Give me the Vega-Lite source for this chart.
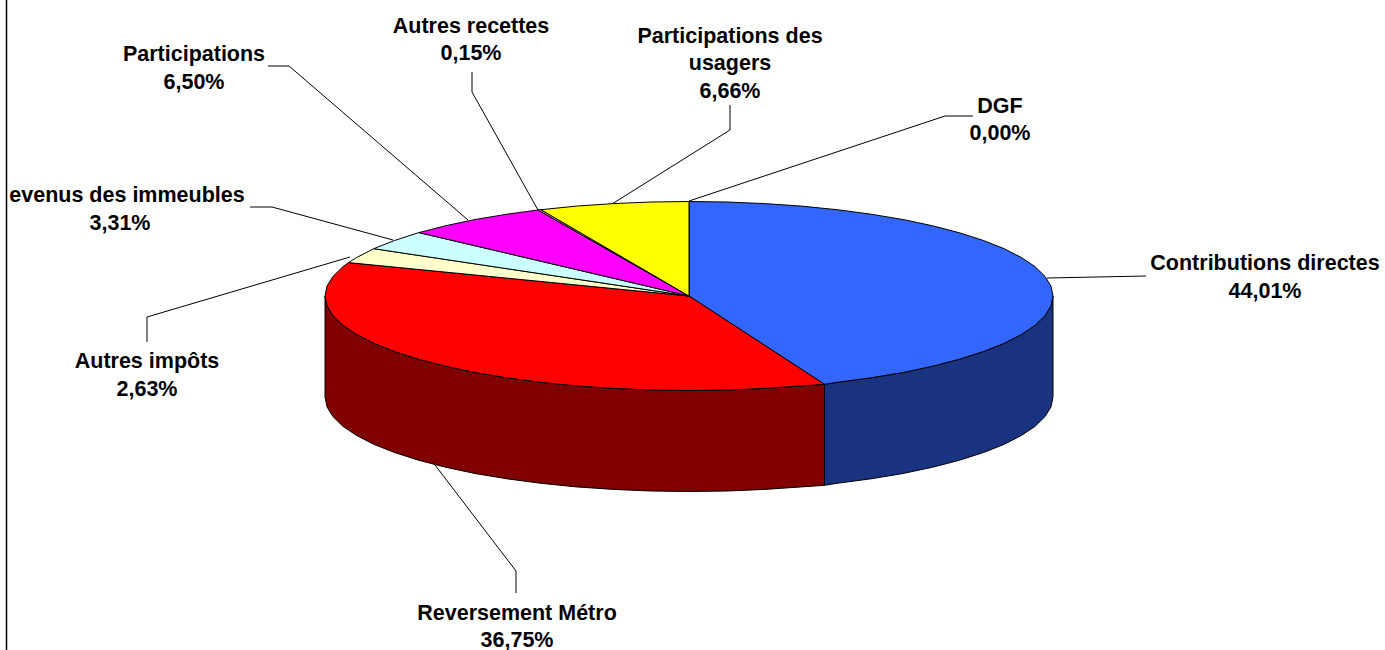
{"$schema":"https://vega.github.io/schema/vega-lite/v6.json","autosize":"none","width":1385,"height":650,"padding":0,"background":"white","config":{"view":{"stroke":null}},
"datasets":{
"walls":[
{"s":"Contributions directes","x":135.5,"y":-88.3,"y2":-189.3},{"s":"Contributions directes","x":148.1,"y":-86.3,"y2":-187.3},{"s":"Contributions directes","x":182,"y":-81.8,"y2":-182.8},{"s":"Contributions directes","x":214,"y":-76.5,"y2":-177.5},{"s":"Contributions directes","x":243.6,"y":-70.2,"y2":-171.2},{"s":"Contributions directes","x":270.5,"y":-63.2,"y2":-164.2},{"s":"Contributions directes","x":294.5,"y":-55.5,"y2":-156.5},{"s":"Contributions directes","x":315.2,"y":-47.3,"y2":-148.3},{"s":"Contributions directes","x":332.5,"y":-38.4,"y2":-139.4},{"s":"Contributions directes","x":346.2,"y":-29.2,"y2":-130.2},{"s":"Contributions directes","x":356,"y":-19.6,"y2":-120.6},{"s":"Contributions directes","x":362,"y":-9.9,"y2":-110.9},{"s":"Contributions directes","x":364,"y":0,"y2":-101},
{"s":"Reversement Métro","x":-364,"y":0,"y2":-101},{"s":"Reversement Métro","x":-362,"y":-9.9,"y2":-110.9},{"s":"Reversement Métro","x":-356,"y":-19.6,"y2":-120.6},{"s":"Reversement Métro","x":-346.2,"y":-29.2,"y2":-130.2},{"s":"Reversement Métro","x":-332.5,"y":-38.4,"y2":-139.4},{"s":"Reversement Métro","x":-315.2,"y":-47.3,"y2":-148.3},{"s":"Reversement Métro","x":-294.5,"y":-55.5,"y2":-156.5},{"s":"Reversement Métro","x":-270.5,"y":-63.2,"y2":-164.2},{"s":"Reversement Métro","x":-243.6,"y":-70.2,"y2":-171.2},{"s":"Reversement Métro","x":-214,"y":-76.5,"y2":-177.5},{"s":"Reversement Métro","x":-182,"y":-81.8,"y2":-182.8},{"s":"Reversement Métro","x":-148.1,"y":-86.3,"y2":-187.3},{"s":"Reversement Métro","x":-112.5,"y":-89.9,"y2":-190.9},{"s":"Reversement Métro","x":-75.7,"y":-92.4,"y2":-193.4},{"s":"Reversement Métro","x":-38,"y":-94,"y2":-195},{"s":"Reversement Métro","x":0,"y":-94.5,"y2":-195.5},{"s":"Reversement Métro","x":38,"y":-94,"y2":-195},{"s":"Reversement Métro","x":75.7,"y":-92.4,"y2":-193.4},{"s":"Reversement Métro","x":112.5,"y":-89.9,"y2":-190.9},{"s":"Reversement Métro","x":135.5,"y":-88.3,"y2":-189.3}
],
"slices":[
{"s":"Contributions directes","i":0,"x":0,"y":0},{"s":"Contributions directes","i":1,"x":0,"y":94.5},{"s":"Contributions directes","i":2,"x":38,"y":94},{"s":"Contributions directes","i":3,"x":75.7,"y":92.4},{"s":"Contributions directes","i":4,"x":112.5,"y":89.9},{"s":"Contributions directes","i":5,"x":148.1,"y":86.3},{"s":"Contributions directes","i":6,"x":182,"y":81.8},{"s":"Contributions directes","i":7,"x":214,"y":76.5},{"s":"Contributions directes","i":8,"x":243.6,"y":70.2},{"s":"Contributions directes","i":9,"x":270.5,"y":63.2},{"s":"Contributions directes","i":10,"x":294.5,"y":55.5},{"s":"Contributions directes","i":11,"x":315.2,"y":47.3},{"s":"Contributions directes","i":12,"x":332.5,"y":38.4},{"s":"Contributions directes","i":13,"x":346.2,"y":29.2},{"s":"Contributions directes","i":14,"x":356,"y":19.6},{"s":"Contributions directes","i":15,"x":362,"y":9.9},{"s":"Contributions directes","i":16,"x":364,"y":0},{"s":"Contributions directes","i":17,"x":362,"y":-9.9},{"s":"Contributions directes","i":18,"x":356,"y":-19.6},{"s":"Contributions directes","i":19,"x":346.2,"y":-29.2},{"s":"Contributions directes","i":20,"x":332.5,"y":-38.4},{"s":"Contributions directes","i":21,"x":315.2,"y":-47.3},{"s":"Contributions directes","i":22,"x":294.5,"y":-55.5},{"s":"Contributions directes","i":23,"x":270.5,"y":-63.2},{"s":"Contributions directes","i":24,"x":243.6,"y":-70.2},{"s":"Contributions directes","i":25,"x":214,"y":-76.5},{"s":"Contributions directes","i":26,"x":182,"y":-81.8},{"s":"Contributions directes","i":27,"x":148.1,"y":-86.3},{"s":"Contributions directes","i":28,"x":135.5,"y":-88.3},{"s":"Contributions directes","i":29,"x":0,"y":0},
{"s":"Reversement Métro","i":0,"x":0,"y":0},{"s":"Reversement Métro","i":1,"x":135.5,"y":-88.3},{"s":"Reversement Métro","i":2,"x":112.5,"y":-89.9},{"s":"Reversement Métro","i":3,"x":75.7,"y":-92.4},{"s":"Reversement Métro","i":4,"x":38,"y":-94},{"s":"Reversement Métro","i":5,"x":0,"y":-94.5},{"s":"Reversement Métro","i":6,"x":-38,"y":-94},{"s":"Reversement Métro","i":7,"x":-75.7,"y":-92.4},{"s":"Reversement Métro","i":8,"x":-112.5,"y":-89.9},{"s":"Reversement Métro","i":9,"x":-148.1,"y":-86.3},{"s":"Reversement Métro","i":10,"x":-182,"y":-81.8},{"s":"Reversement Métro","i":11,"x":-214,"y":-76.5},{"s":"Reversement Métro","i":12,"x":-243.6,"y":-70.2},{"s":"Reversement Métro","i":13,"x":-270.5,"y":-63.2},{"s":"Reversement Métro","i":14,"x":-294.5,"y":-55.5},{"s":"Reversement Métro","i":15,"x":-315.2,"y":-47.3},{"s":"Reversement Métro","i":16,"x":-332.5,"y":-38.4},{"s":"Reversement Métro","i":17,"x":-346.2,"y":-29.2},{"s":"Reversement Métro","i":18,"x":-356,"y":-19.6},{"s":"Reversement Métro","i":19,"x":-362,"y":-9.9},{"s":"Reversement Métro","i":20,"x":-364,"y":0},{"s":"Reversement Métro","i":21,"x":-362,"y":9.9},{"s":"Reversement Métro","i":22,"x":-356,"y":19.6},{"s":"Reversement Métro","i":23,"x":-346.2,"y":29.2},{"s":"Reversement Métro","i":24,"x":-340.5,"y":33.4},{"s":"Reversement Métro","i":25,"x":0,"y":0},
{"s":"Autres impôts","i":0,"x":0,"y":0},{"s":"Autres impôts","i":1,"x":-340.5,"y":33.4},{"s":"Autres impôts","i":2,"x":-332.5,"y":38.4},{"s":"Autres impôts","i":3,"x":-315.2,"y":47.3},{"s":"Autres impôts","i":4,"x":0,"y":0},
{"s":"Revenus des immeubles","i":0,"x":0,"y":0},{"s":"Revenus des immeubles","i":1,"x":-315.2,"y":47.3},{"s":"Revenus des immeubles","i":2,"x":-294.5,"y":55.5},{"s":"Revenus des immeubles","i":3,"x":-270.1,"y":63.4},{"s":"Revenus des immeubles","i":4,"x":0,"y":0},
{"s":"Participations","i":0,"x":0,"y":0},{"s":"Participations","i":1,"x":-270.1,"y":63.4},{"s":"Participations","i":2,"x":-243.6,"y":70.2},{"s":"Participations","i":3,"x":-214,"y":76.5},{"s":"Participations","i":4,"x":-182,"y":81.8},{"s":"Participations","i":5,"x":-151,"y":86},{"s":"Participations","i":6,"x":0,"y":0},
{"s":"Autres recettes","i":0,"x":0,"y":0},{"s":"Autres recettes","i":1,"x":-151,"y":86},{"s":"Autres recettes","i":2,"x":-148.1,"y":86.3},{"s":"Autres recettes","i":3,"x":0,"y":0},
{"s":"Participations des usagers","i":0,"x":0,"y":0},{"s":"Participations des usagers","i":1,"x":-148.1,"y":86.3},{"s":"Participations des usagers","i":2,"x":-112.5,"y":89.9},{"s":"Participations des usagers","i":3,"x":-75.7,"y":92.4},{"s":"Participations des usagers","i":4,"x":-38,"y":94},{"s":"Participations des usagers","i":5,"x":0,"y":94.5},{"s":"Participations des usagers","i":6,"x":0,"y":0}
],
"leaders":[
{"s":"Contributions directes","i":0,"x":358,"y":18},{"s":"Contributions directes","i":1,"x":457,"y":20},
{"s":"DGF","i":0,"x":0,"y":95},{"s":"DGF","i":1,"x":256,"y":180},{"s":"DGF","i":2,"x":284,"y":180},
{"s":"Participations des usagers","i":0,"x":-77,"y":92},{"s":"Participations des usagers","i":1,"x":41,"y":166},{"s":"Participations des usagers","i":2,"x":41,"y":191},
{"s":"Autres recettes","i":0,"x":-151,"y":86},{"s":"Autres recettes","i":1,"x":-217,"y":204},{"s":"Autres recettes","i":2,"x":-217,"y":224},
{"s":"Participations","i":0,"x":-221,"y":76},{"s":"Participations","i":1,"x":-400,"y":230},{"s":"Participations","i":2,"x":-421,"y":230},
{"s":"Revenus des immeubles","i":0,"x":-296,"y":56},{"s":"Revenus des immeubles","i":1,"x":-417,"y":89},{"s":"Revenus des immeubles","i":2,"x":-439,"y":89},
{"s":"Autres impôts","i":0,"x":-339,"y":39},{"s":"Autres impôts","i":1,"x":-542,"y":-21},{"s":"Autres impôts","i":2,"x":-542,"y":-46},
{"s":"Reversement Métro","i":0,"x":-254,"y":-169},{"s":"Reversement Métro","i":1,"x":-173,"y":-275},{"s":"Reversement Métro","i":2,"x":-173,"y":-297}
],
"frame":[{"x":-682.5,"y":-354},{"x":-682.5,"y":296}],
"labels":[
{"t":"Contributions directes","x":576,"y":32.5},{"t":"44,01%","x":576,"y":4.5},
{"t":"DGF","x":311,"y":189.5},{"t":"0,00%","x":311,"y":162.5},
{"t":"Participations des","x":41,"y":259.5},{"t":"usagers","x":41,"y":232.5},{"t":"6,66%","x":41,"y":204.5},
{"t":"Autres recettes","x":-218,"y":269.5},{"t":"0,15%","x":-218,"y":242.5},
{"t":"Participations","x":-495,"y":241.5},{"t":"6,50%","x":-495,"y":213.5},
{"t":"evenus des immeubles","x":-562,"y":100.5},{"t":"3,31%","x":-569,"y":72.5},
{"t":"Autres impôts","x":-542,"y":-65.5},{"t":"2,63%","x":-542,"y":-93.5},
{"t":"Reversement Métro","x":-172,"y":-318},{"t":"36,75%","x":-172,"y":-345}
]},
"encoding":{"x":{"field":"x","type":"quantitative","scale":{"domain":[-689,696],"nice":false,"zero":false},"axis":null},"y":{"field":"y","type":"quantitative","scale":{"domain":[-354,296],"nice":false,"zero":false},"axis":null}},
"layer":[
{"data":{"name":"frame"},"mark":{"type":"line","stroke":"#000000","strokeWidth":1.5},"encoding":{}},
{"data":{"name":"leaders"},"mark":{"type":"line","stroke":"#000000","strokeWidth":1},"encoding":{"detail":{"field":"s"},"order":{"field":"i"}}},
{"data":{"name":"walls"},"mark":{"type":"area","stroke":"#000000","strokeWidth":1},"encoding":{"y2":{"field":"y2"},"fill":{"field":"s","legend":null,"scale":{"domain":["Contributions directes","Reversement Métro"],"range":["#1A3380","#800000"]}}}},
{"data":{"name":"slices"},"mark":{"type":"line","stroke":"#000000","strokeWidth":1,"strokeJoin":"round"},"encoding":{"order":{"field":"i"},"fill":{"field":"s","legend":null,"scale":{"domain":["Contributions directes","Reversement Métro","Autres impôts","Revenus des immeubles","Participations","Autres recettes","Participations des usagers"],"range":["#3366FF","#FF0000","#FFFFCC","#CCFFFF","#FF00FF","#FF99CC","#FFFF00"]}}}},
{"data":{"name":"labels"},"mark":{"type":"text","font":"Liberation Sans","fontWeight":"bold","fontSize":21.5,"fill":"#000000","align":"center","baseline":"middle"},"encoding":{"text":{"field":"t"}}}
],
"resolve":{"scale":{"fill":"independent"}}}
